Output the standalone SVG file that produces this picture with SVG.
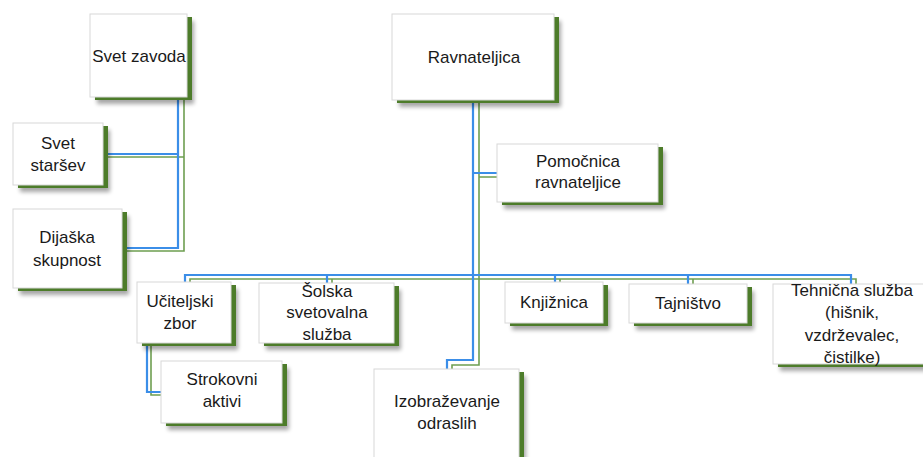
<svg xmlns="http://www.w3.org/2000/svg" width="923" height="457" viewBox="0 0 923 457">
<defs>
<filter id="soft" x="-10%" y="-10%" width="130%" height="140%">
<feGaussianBlur in="SourceAlpha" stdDeviation="2"/>
<feOffset dx="2" dy="4"/>
<feComponentTransfer><feFuncA type="linear" slope="0.35"/></feComponentTransfer>
<feMerge><feMergeNode/><feMergeNode in="SourceGraphic"/></feMerge>
</filter>
</defs>
<style>
.sh{fill:#4e7b2c;filter:url(#soft)}
.bx{fill:#ffffff;stroke:#d8d8d8;stroke-width:1}
.t{font-family:"Liberation Sans","DejaVu Sans",sans-serif;font-size:17px;fill:#1a1a1a;text-anchor:middle}
.b{fill:none;stroke:#3b8ee8;stroke-width:2.2}
.g{fill:none;stroke:#6e9e50;stroke-width:1.6}
</style>
<rect width="923" height="457" fill="#ffffff"/>
<g id="connectors">
<path class="g" d="M184 98 V251 H122 M184 157 H103"/>
<path class="b" d="M178 98 V248 H122 M178 154 H103"/>
<path class="g" d="M479 100 V365 H452 V369 M479 177 H497 M190 282 V279 H856 V284 M332 283 V279 M560 282 V279 M693 284 V279 M151 343 V395 H161"/>
<path class="b" d="M473 100 V360 H447 V369 M473 173 H497 M185 282 V275 H851 V284 M327 283 V275 M555 282 V275 M688 284 V275 M147 343 V392 H161"/>
</g>
<g id="svet-zavoda">
<rect class="sh" x="95" y="17" width="97" height="83"/>
<rect class="bx" x="90" y="14" width="97" height="83"/>
<text class="t" x="139" y="62">Svet zavoda</text>
</g>
<g id="ravnateljica">
<rect class="sh" x="397" y="17" width="162" height="86"/>
<rect class="bx" x="392" y="14" width="162" height="86"/>
<text class="t" x="474" y="63">Ravnateljica</text>
</g>
<g id="svet-starsev">
<rect class="sh" x="18" y="126" width="90" height="62"/>
<rect class="bx" x="13" y="123" width="90" height="62"/>
<text class="t" x="58" y="149">Svet</text>
<text class="t" x="58" y="171">staršev</text>
</g>
<g id="dijaska-skupnost">
<rect class="sh" x="18" y="212" width="109" height="79"/>
<rect class="bx" x="13" y="209" width="109" height="79"/>
<text class="t" x="67" y="243">Dijaška</text>
<text class="t" x="67" y="266">skupnost</text>
</g>
<g id="pomocnica">
<rect class="sh" x="502" y="147" width="161" height="58"/>
<rect class="bx" x="497" y="144" width="161" height="58"/>
<text class="t" x="578" y="167">Pomočnica</text>
<text class="t" x="578" y="188">ravnateljice</text>
</g>
<g id="uciteljski-zbor">
<rect class="sh" x="142" y="285" width="94" height="61"/>
<rect class="bx" x="137" y="282" width="94" height="61"/>
<text class="t" x="180" y="307">Učiteljski</text>
<text class="t" x="180" y="329">zbor</text>
</g>
<g id="solska-svetovalna-sluzba">
<rect class="sh" x="264" y="286" width="135" height="60"/>
<rect class="bx" x="259" y="283" width="135" height="60"/>
<text class="t" x="327" y="297">Šolska</text>
<text class="t" x="327" y="318">svetovalna</text>
<text class="t" x="327" y="340">služba</text>
</g>
<g id="strokovni-aktivi">
<rect class="sh" x="166" y="364" width="121" height="62"/>
<rect class="bx" x="161" y="361" width="121" height="62"/>
<text class="t" x="222" y="385">Strokovni</text>
<text class="t" x="222" y="407">aktivi</text>
</g>
<g id="knjiznica">
<rect class="sh" x="510" y="285" width="98" height="41"/>
<rect class="bx" x="505" y="282" width="98" height="41"/>
<text class="t" x="554" y="308">Knjižnica</text>
</g>
<g id="tajnistvo">
<rect class="sh" x="634" y="287" width="118" height="39"/>
<rect class="bx" x="629" y="284" width="118" height="39"/>
<text class="t" x="688" y="309">Tajništvo</text>
</g>
<g id="tehnicna-sluzba">
<rect class="sh" x="778" y="287" width="150" height="80"/>
<rect class="bx" x="773" y="284" width="152" height="80"/>
<text class="t" x="852" y="296">Tehnična služba</text>
<text class="t" x="852" y="318">(hišnik,</text>
<text class="t" x="852" y="341">vzdrževalec,</text>
<text class="t" x="852" y="363">čistilke)</text>
</g>
<g id="izobrazevanje-odraslih">
<rect class="sh" x="379" y="372" width="145" height="90"/>
<rect class="bx" x="374" y="369" width="145" height="92"/>
<text class="t" x="447" y="407">Izobraževanje</text>
<text class="t" x="447" y="429">odraslih</text>
</g>
</svg>
